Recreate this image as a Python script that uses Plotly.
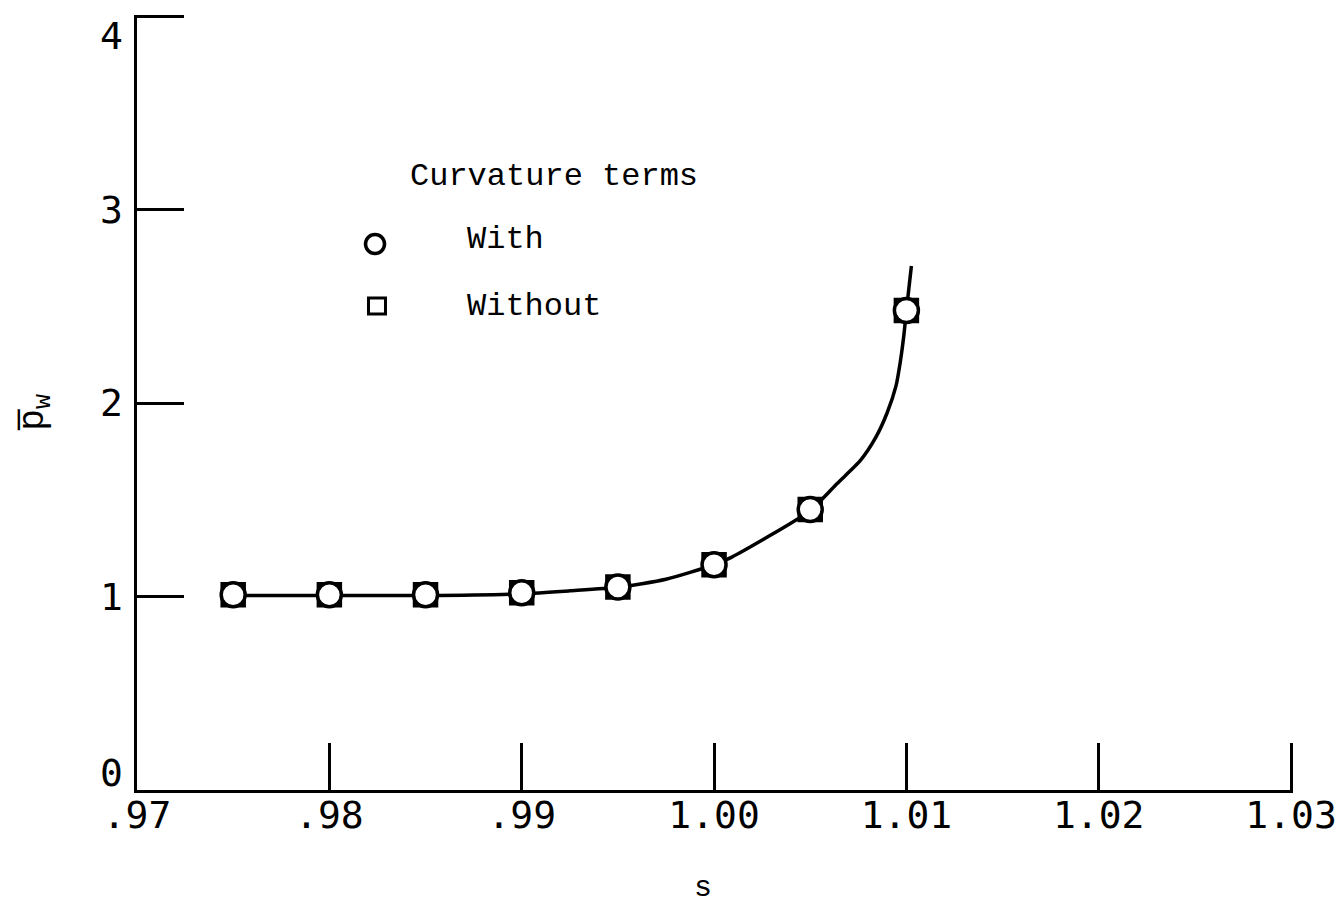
import plotly.graph_objects as go

# ---- data ----
s_points = [0.975, 0.980, 0.985, 0.990, 0.995, 1.000, 1.005, 1.010]
pw_with = [1.01, 1.01, 1.01, 1.02, 1.05, 1.165, 1.45, 2.48]
pw_without = [1.01, 1.01, 1.01, 1.02, 1.05, 1.165, 1.45, 2.48]

curve_s = [0.975, 0.980, 0.985, 0.990, 0.9925, 0.995, 0.9975, 1.0000,
           1.0009, 1.0050, 1.0064, 1.0076, 1.0084, 1.0090, 1.00946,
           1.00969, 1.00987, 1.0100, 1.01026]
curve_pw = [1.006, 1.006, 1.006, 1.015, 1.030, 1.048, 1.090, 1.165,
            1.203, 1.445, 1.585, 1.703, 1.822, 1.951, 2.090,
            2.219, 2.353, 2.480, 2.710]

x_tick_vals = [0.97, 0.98, 0.99, 1.00, 1.01, 1.02, 1.03]
x_tick_text = [".97", ".98", ".99", "1.00", "1.01", "1.02", "1.03"]
y_tick_vals = [0, 1, 2, 3, 4]
y_tick_text = ["0", "1", "2", "3", "4"]

legend_title = "Curvature terms"
legend_labels = ["With", "Without"]
x_title = "s"
y_title = "p\u0305<sub>w</sub>"

TICK_FONT = dict(family="DejaVu Sans Mono", size=38, color="black")
TEXT_FONT = "Liberation Mono"

fig = go.Figure()

fig.add_trace(go.Scatter(
    x=curve_s, y=curve_pw, mode="lines",
    line=dict(color="black", width=3.5, shape="spline", smoothing=0.6),
    hoverinfo="skip", showlegend=False))

fig.add_trace(go.Scatter(
    x=s_points, y=pw_without, mode="markers", name=legend_labels[1],
    marker=dict(symbol="square", size=22, color="white",
                line=dict(color="black", width=3.5)),
    showlegend=False))

fig.add_trace(go.Scatter(
    x=s_points, y=pw_with, mode="markers", name=legend_labels[0],
    marker=dict(symbol="circle", size=24, color="white",
                line=dict(color="black", width=3.5)),
    showlegend=False))

# legend keys (drawn as layout shapes in paper space)
shapes = [
    dict(type="circle", xref="paper", yref="paper", xsizemode="pixel", ysizemode="pixel",
         xanchor=0.2059, yanchor=0.7045, x0=-9.5, x1=9.5, y0=-9.5, y1=9.5,
         line=dict(color="black", width=3.5), fillcolor="white"),
    dict(type="rect", xref="paper", yref="paper", xsizemode="pixel", ysizemode="pixel",
         xanchor=0.2076, yanchor=0.6245, x0=-8.5, x1=8.5, y0=-8, y1=8,
         line=dict(color="black", width=3), fillcolor="white"),
]

annotations = [
    dict(text=legend_title, xref="paper", yref="paper", x=0.2345, y=0.792,
         xanchor="left", yanchor="middle", showarrow=False,
         font=dict(family=TEXT_FONT, size=32, color="black")),
    dict(text=legend_labels[0], xref="paper", yref="paper", x=0.284, y=0.7097,
         xanchor="left", yanchor="middle", showarrow=False,
         font=dict(family=TEXT_FONT, size=32, color="black")),
    dict(text=legend_labels[1], xref="paper", yref="paper", x=0.284, y=0.6245,
         xanchor="left", yanchor="middle", showarrow=False,
         font=dict(family=TEXT_FONT, size=32, color="black")),
    dict(text=x_title, xref="paper", yref="paper", x=0.4896, y=-0.126,
         xanchor="center", yanchor="middle", showarrow=False,
         font=dict(family=TEXT_FONT, size=30, color="black")),
    dict(text=y_title, xref="paper", yref="paper", x=-0.088, y=0.487,
         xanchor="center", yanchor="middle", showarrow=False, textangle=-90,
         font=dict(family=TEXT_FONT, size=36, color="black")),
]

# y tick labels (as annotations so that the end labels can sit inside the axis span)
for v, t in zip(y_tick_vals, y_tick_text):
    shift = 0
    if v == y_tick_vals[0]:
        shift = 17
    elif v == y_tick_vals[-1]:
        shift = -19
    annotations.append(dict(text=t, xref="paper", yref="y", x=0, y=v,
                            xanchor="right", yanchor="middle", xshift=-12, yshift=shift,
                            showarrow=False, font=TICK_FONT))

fig.update_layout(
    width=1344, height=904, autosize=False,
    margin=dict(l=137, r=51, t=15, b=114, pad=0),
    paper_bgcolor="white", plot_bgcolor="white",
    shapes=shapes, annotations=annotations,
    showlegend=False,
)

fig.update_xaxes(
    range=[0.969999, 1.0301], tickvals=x_tick_vals, ticktext=x_tick_text,
    ticks="inside", ticklen=47, tickwidth=2.5, tickcolor="black",
    showline=True, linecolor="black", linewidth=2.5,
    showgrid=False, zeroline=False, tickfont=TICK_FONT,
    automargin=False, ticklabelstandoff=-10,
)
fig.update_yaxes(
    range=[0, 4.008], tickvals=y_tick_vals[1:], showticklabels=False,
    ticks="inside", ticklen=47, tickwidth=2.5, tickcolor="black",
    showline=True, linecolor="black", linewidth=2.5,
    showgrid=False, zeroline=False, automargin=False,
)

fig.write_html("out.html")
